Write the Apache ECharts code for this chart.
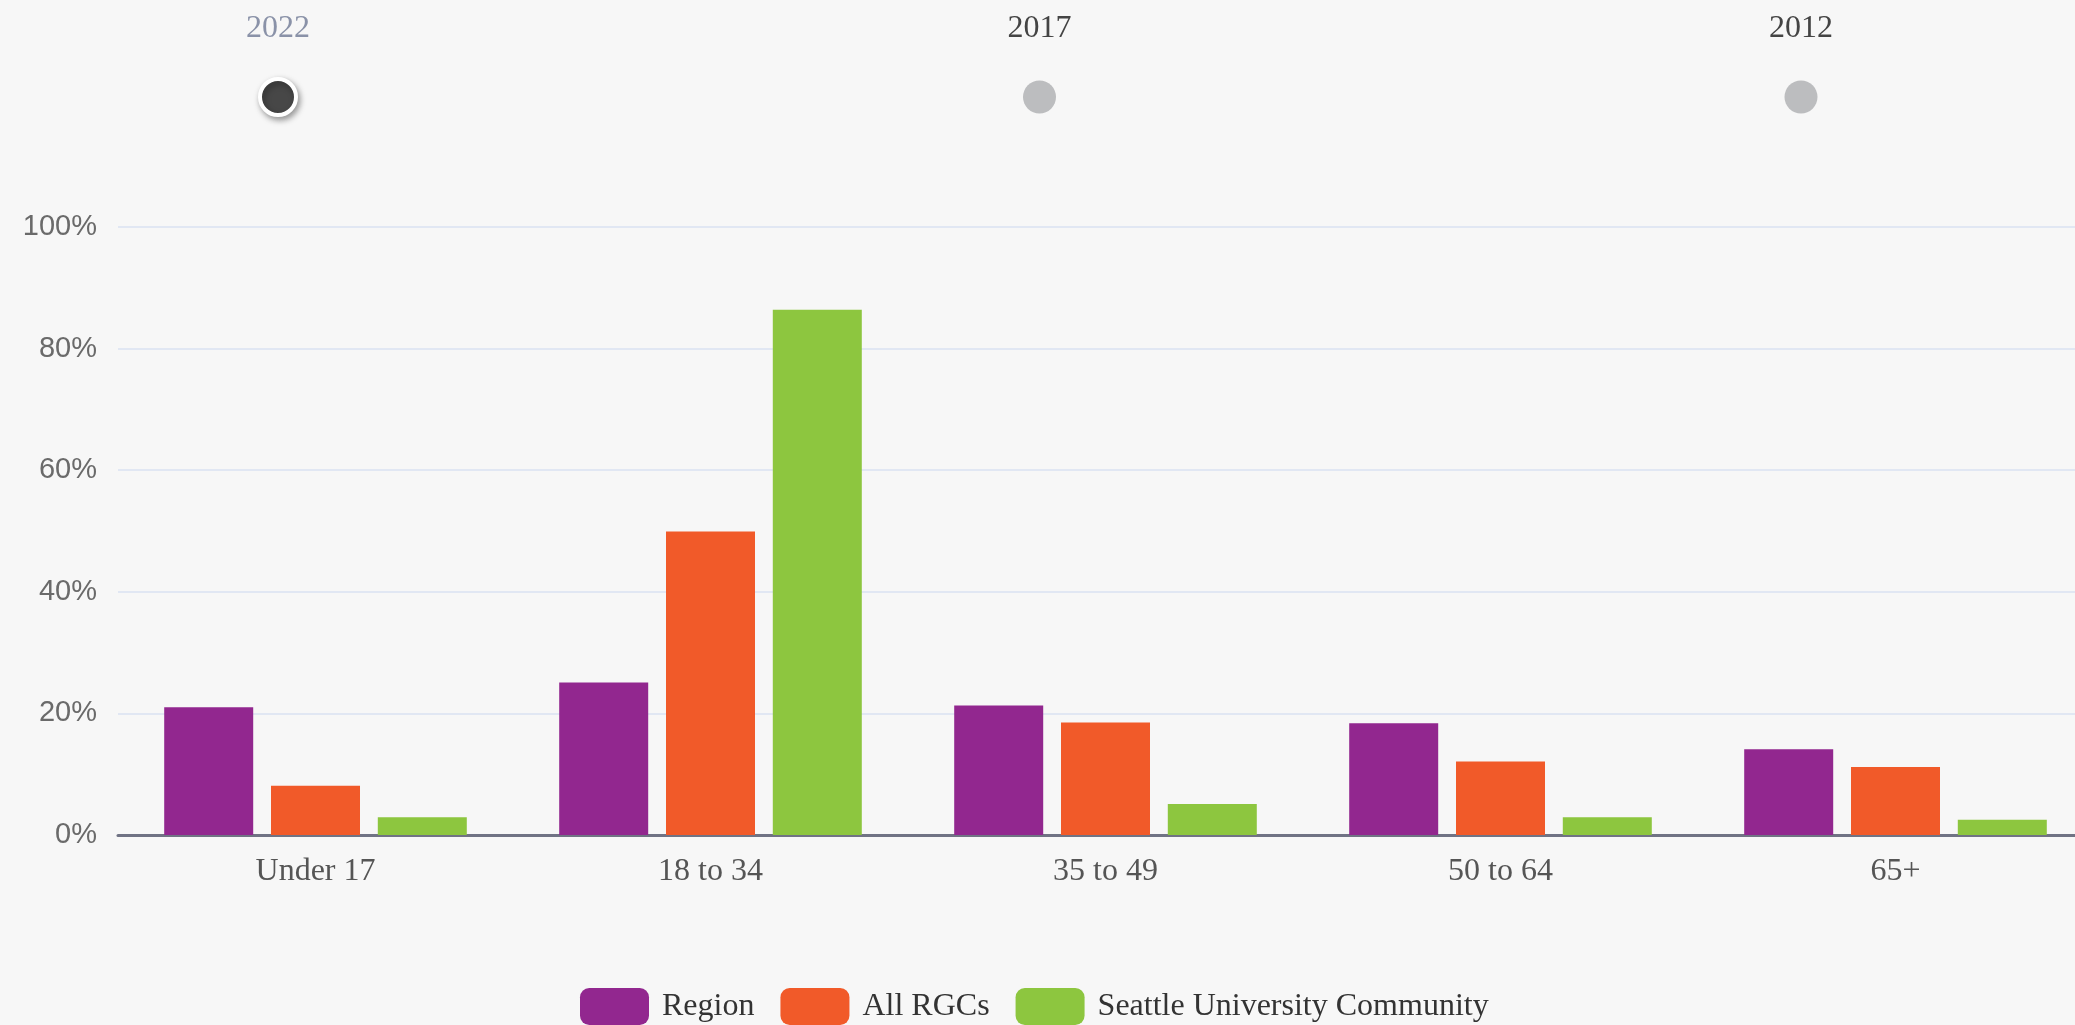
<!DOCTYPE html>
<html>
<head>
<meta charset="utf-8">
<title>Age groups</title>
<script src="https://cdn.jsdelivr.net/npm/echarts@6/dist/echarts.min.js"></script>
<style>
  html, body { margin: 0; padding: 0; background: #f7f7f7; overflow: hidden; }
  /* 图表比窗口略宽，右侧被裁掉，与原图一致 */
  #main { width: 2110px; height: 1025px; }
</style>
</head>
<body>
<div id="main"></div>
<script>
// 数据
var years = ["2022", "2017", "2012"];
var ageGroups = ["Under 17", "18 to 34", "35 to 49", "50 to 64", "65+"];
var seriesNames = ["Region", "All RGCs", "Seattle University Community"];
var regionVals = [21.0, 25.1, 21.3, 18.4, 14.1];
var rgcVals = [8.1, 49.9, 18.5, 12.1, 11.2];
var suVals = [2.9, 86.4, 5.1, 2.9, 2.5];
var colors = ["#92278f", "#f15a29", "#8dc63f"];

(function () {
  var myChart = echarts.init(document.getElementById("main"));
  var serif = "Liberation Serif";

  var option = {
    backgroundColor: "#f7f7f7",
    color: colors,
    animation: false,
    // 顶部年份时间轴
    timeline: {
      axisType: "category",
      data: years,
      currentIndex: 0,
      autoPlay: false,
      left: 278,
      right: 2110 - 1801,
      top: 43,
      height: 74,
      padding: 0,
      symbol: "circle",
      symbolSize: 33,
      lineStyle: { show: false },
      itemStyle: { color: "#bcbdbf", borderWidth: 0 },
      checkpointStyle: {
        symbol: "circle",
        symbolSize: 36,
        color: "#474747",
        borderColor: "#fff",
        borderWidth: 4,
        shadowBlur: 6,
        shadowColor: "rgba(0,0,0,0.35)",
        shadowOffsetX: 2,
        shadowOffsetY: 3,
        animation: false
      },
      controlStyle: { show: false, showPlayBtn: false, showPrevBtn: false, showNextBtn: false },
      label: {
        position: -52,
        color: "#444",
        fontFamily: serif,
        fontSize: 32
      },
      progress: {
        label: { color: "#8a92a8", fontFamily: serif, fontSize: 32 },
        itemStyle: { color: "#bcbdbf" },
        lineStyle: { show: false }
      },
      emphasis: { label: { color: "#444", fontFamily: serif, fontSize: 32 } }
    },
    legend: {
      data: seriesNames,
      left: 580,
      top: 988,
      padding: 0,
      icon: "roundRect",
      itemWidth: 69,
      itemHeight: 37,
      itemGap: 26,
      textStyle: {
        color: "#333",
        fontFamily: serif,
        fontSize: 32,
        padding: [0, 0, 0, 8]
      }
    },
    grid: {
      left: 118,
      top: 227,
      width: 1975,
      height: 608
    },
    xAxis: {
      type: "category",
      data: ageGroups,
      axisTick: { show: false },
      axisLine: { lineStyle: { color: "#707384", width: 3 } },
      axisLabel: {
        color: "#555",
        fontFamily: serif,
        fontSize: 32,
        margin: 21
      }
    },
    yAxis: {
      type: "value",
      min: 0,
      max: 100,
      interval: 20,
      axisLine: { show: false },
      axisTick: { show: false },
      axisLabel: {
        formatter: "{value}%",
        color: "#6a6a6a",
        fontFamily: "Liberation Sans",
        fontSize: 29,
        margin: 21
      },
      splitLine: { lineStyle: { color: "#e1e7f3", width: 2 } }
    },
    series: [
      { name: seriesNames[0], type: "bar", data: regionVals, barWidth: 89, barGap: "20%" },
      { name: seriesNames[1], type: "bar", data: rgcVals, barWidth: 89, barGap: "20%" },
      { name: seriesNames[2], type: "bar", data: suVals, barWidth: 89, barGap: "20%" }
    ]
  };

  myChart.setOption(option);
  window.addEventListener("resize", function () {
    myChart.resize();
  });
})();
</script>
</body>
</html>
